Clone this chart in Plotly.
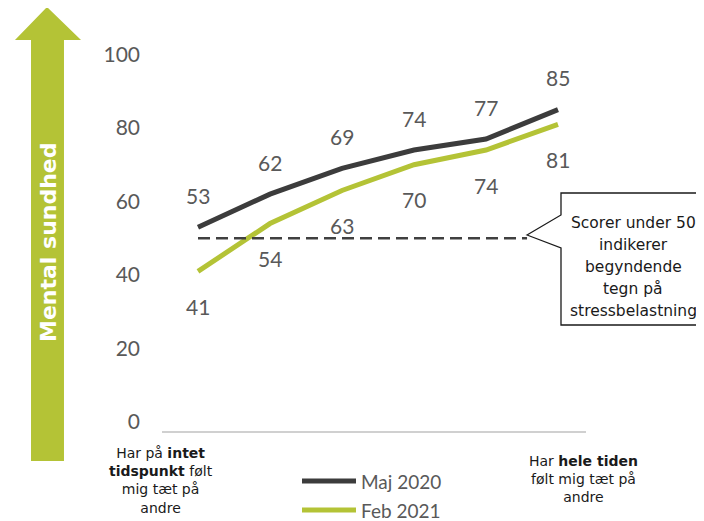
import plotly.graph_objects as go

x_idx = [0, 1, 2, 3, 4, 5]
maj_2020 = [53, 62, 69, 74, 77, 85]
feb_2021 = [41, 54, 63, 70, 74, 81]
threshold = 50
y_ticks = [0, 20, 40, 60, 80, 100]
series_names = ["Maj 2020", "Feb 2021"]
left_cat = "Har på <b>intet</b><br><b>tidspunkt</b> følt<br>mig tæt på<br>andre"
right_cat = "Har <b>hele tiden</b><br>følt mig tæt på<br>andre"
callout_lines = ["Scorer under 50", "indikerer", "begyndende", "tegn på", "stressbelastning"]

DARK = "#3c3c3c"
GREEN = "#b4c336"
GRAY_TXT = "#595959"

OFF = 8  # page body margin offset
W, H = 704, 521
L, T = 162 - OFF, 40 - OFF
PLOT_R, PLOT_B = 594 - OFF, 440 - OFF
R, B = W - PLOT_R, H - PLOT_B
PW, PH = PLOT_R - L, PLOT_B - T

ZERO_PX, PX_PER_UNIT = 422 - OFF, 3.675


def px(x):
    return (x - OFF - L) / PW


def py(y):
    return (PLOT_B - (y - OFF)) / PH


fig = go.Figure()
fig.add_trace(go.Scatter(x=x_idx, y=maj_2020, mode="lines", name=series_names[0],
                         line=dict(color=DARK, width=5), showlegend=False))
fig.add_trace(go.Scatter(x=x_idx, y=feb_2021, mode="lines", name=series_names[1],
                         line=dict(color=GREEN, width=5), showlegend=False))

fig.add_trace(go.Scatter(x=[0, 4.57], y=[threshold, threshold], mode="lines",
                         line=dict(color="#404040", width=2.5, dash="12px,6px"),
                         showlegend=False, hoverinfo="skip"))

ann = []
for xi, v in zip(x_idx, maj_2020):
    ann.append(dict(x=xi, y=v, text=str(v), showarrow=False, yshift=32,
                    xanchor="center", yanchor="middle",
                    font=dict(family="Lato", size=21, color=GRAY_TXT)))
for xi, v in zip(x_idx, feb_2021):
    ann.append(dict(x=xi, y=v, text=str(v), showarrow=False, yshift=-35,
                    xanchor="center", yanchor="middle",
                    font=dict(family="Lato", size=21, color=GRAY_TXT)))

ann.append(dict(xref="paper", yref="paper", x=px(161), y=py(480), text=left_cat,
                showarrow=False, xanchor="center", yanchor="middle", align="center",
                font=dict(family="DejaVu Sans", size=14, color="#1a1a1a")))
ann.append(dict(xref="paper", yref="paper", x=px(583), y=py(479), text=right_cat,
                showarrow=False, xanchor="center", yanchor="middle", align="center",
                font=dict(family="DejaVu Sans", size=14, color="#1a1a1a")))

for i, line in enumerate(callout_lines):
    ann.append(dict(xref="paper", yref="paper", x=px(633), y=py(223 + 22 * i), text=line,
                    showarrow=False, xanchor="center", yanchor="middle", borderpad=0,
                    font=dict(family="DejaVu Sans", size=15.5, color="#1a1a1a")))

ann.append(dict(xref="paper", yref="paper", x=px(48), y=py(242), text="<b>Mental sundhed</b>",
                showarrow=False, textangle=-90, xanchor="center", yanchor="middle",
                font=dict(family="DejaVu Sans", size=22, color="white")))

for name, yy in [(series_names[0], 481), (series_names[1], 510)]:
    ann.append(dict(xref="paper", yref="paper", x=px(359), y=py(yy), text=name,
                    showarrow=False, xanchor="left", yanchor="middle",
                    font=dict(family="Lato", size=19, color=GRAY_TXT)))

shapes = []
for col, yy in [(DARK, 481), (GREEN, 510)]:
    shapes.append(dict(type="line", xref="paper", yref="paper", x0=px(302), x1=px(356),
                       y0=py(yy), y1=py(yy), line=dict(color=col, width=5)))

shapes.append(dict(type="line", xref="paper", yref="y", x0=px(162), x1=px(586),
                   y0=-2.7, y1=-2.7, line=dict(color="#d0d0d0", width=2), layer="below"))

pts = [(527, 235), (561, 215), (561, 193), (720, 193), (720, 325), (561, 325), (561, 248)]
path = "M " + " L ".join(f"{px(a):.4f},{py(b):.4f}" for a, b in pts) + " Z"
shapes.append(dict(type="path", xref="paper", yref="paper", path=path,
                   line=dict(color="#1a1a1a", width=1.3), fillcolor="white", layer="below"))

apts = [(47, 7), (81, 40), (64, 40), (64, 461), (31, 461), (31, 40), (15, 40)]
apath = "M " + " L ".join(f"{px(a):.4f},{py(b):.4f}" for a, b in apts) + " Z"
shapes.append(dict(type="path", xref="paper", yref="paper", path=apath,
                   line=dict(width=0), fillcolor=GREEN, layer="below"))

y_lo = (ZERO_PX - PLOT_B) / PX_PER_UNIT
y_hi = (ZERO_PX - T) / PX_PER_UNIT

fig.update_layout(
    width=W, height=H,
    margin=dict(l=L, r=R, t=T, b=B, pad=0),
    plot_bgcolor="rgba(0,0,0,0)", paper_bgcolor="white",
    xaxis=dict(range=[-0.5, 5.5], showticklabels=False, showgrid=False, zeroline=False,
               showline=False, fixedrange=True),
    yaxis=dict(range=[y_lo, y_hi],
               tickvals=y_ticks, ticktext=[str(t) for t in y_ticks],
               showgrid=False, zeroline=False, showline=False,
               ticklabelstandoff=21,
               tickfont=dict(family="Lato", size=21, color=GRAY_TXT)),
    annotations=ann,
    shapes=shapes,
    showlegend=False,
)

fig.write_html("out.html")
